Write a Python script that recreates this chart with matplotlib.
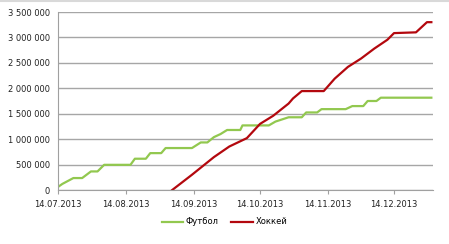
import matplotlib
matplotlib.use("Agg")
import matplotlib.pyplot as plt
import matplotlib.dates as mdates
from matplotlib.ticker import FuncFormatter
import pandas as pd

football_dates = ["2013-07-14", "2013-07-16", "2013-07-21", "2013-07-25", "2013-07-29",
                  "2013-08-01", "2013-08-04", "2013-08-16", "2013-08-18", "2013-08-23",
                  "2013-08-25", "2013-08-30", "2013-09-01", "2013-09-13", "2013-09-17",
                  "2013-09-20", "2013-09-23", "2013-09-26", "2013-09-29", "2013-10-05",
                  "2013-10-06", "2013-10-18", "2013-10-21", "2013-10-27", "2013-11-02",
                  "2013-11-04", "2013-11-09", "2013-11-11", "2013-11-22", "2013-11-25",
                  "2013-11-30", "2013-12-02", "2013-12-06", "2013-12-08", "2013-12-31"]
football_values = [60000, 120000, 235000, 235000, 365000,
                   365000, 495000, 495000, 615000, 615000,
                   725000, 725000, 825000, 825000, 935000,
                   935000, 1040000, 1100000, 1180000, 1180000,
                   1270000, 1270000, 1345000, 1430000, 1430000,
                   1525000, 1525000, 1590000, 1590000, 1650000,
                   1650000, 1750000, 1750000, 1815000, 1815000]

hockey_dates = ["2013-09-04", "2013-09-13", "2013-09-23", "2013-09-30", "2013-10-08",
                "2013-10-14", "2013-10-20", "2013-10-27", "2013-10-29", "2013-11-02",
                "2013-11-12", "2013-11-17", "2013-11-23", "2013-11-29", "2013-12-05",
                "2013-12-11", "2013-12-14", "2013-12-24", "2013-12-29", "2013-12-31"]
hockey_values = [0, 300000, 647000, 855000, 1020000,
                 1300000, 1460000, 1700000, 1800000, 1945000,
                 1945000, 2190000, 2420000, 2585000, 2780000,
                 2955000, 3085000, 3100000, 3300000, 3300000]

tick_dates = ["2013-07-14", "2013-08-14", "2013-09-14", "2013-10-14", "2013-11-14", "2013-12-14"]
y_ticks = [0, 500000, 1000000, 1500000, 2000000, 2500000, 3000000, 3500000]

fig = plt.figure(figsize=(4.49, 2.44), dpi=100)
ax = fig.add_axes([58/449, 1 - 190/244, (433 - 58)/449, (190 - 12)/244])

ax.plot(pd.to_datetime(football_dates), football_values, color="#92C84F", lw=1.6,
        label="Футбол", solid_joinstyle="round")
ax.plot(pd.to_datetime(hockey_dates), hockey_values, color="#B3080E", lw=1.6,
        label="Хоккей", solid_joinstyle="round")

ax.set_ylim(0, 3500000)
ax.set_xlim(pd.Timestamp("2013-07-14"), pd.Timestamp("2013-12-31 18:00"))
ax.set_yticks(y_ticks)
ax.yaxis.set_major_formatter(FuncFormatter(lambda v, p: f"{int(v):,}".replace(",", " ")))
ax.set_xticks(pd.to_datetime(tick_dates))
ax.xaxis.set_major_formatter(mdates.DateFormatter("%d.%m.%Y"))

ax.grid(axis="y", color="#A6A6A6", lw=1)
ax.set_axisbelow(True)
for s in ["top", "right"]:
    ax.spines[s].set_visible(False)
ax.spines["left"].set_color("#A0A0A0")
ax.spines["bottom"].set_color("#A0A0A0")
ax.tick_params(axis="y", length=0, labelsize=6, pad=6, labelcolor="#222222")
ax.tick_params(axis="x", length=3, color="#A0A0A0", labelsize=6, pad=4, labelcolor="#222222")

fig.legend(loc="center", bbox_to_anchor=(0.5, 1 - 222/244), ncol=2, frameon=False,
           fontsize=6, handlelength=2.6, columnspacing=1.5, handletextpad=0.3)

fig.add_artist(plt.Line2D([0, 1], [0.995, 0.995], color="#D9D9D9", lw=1.5,
                          transform=fig.transFigure))

fig.savefig("out.png", dpi=100)
